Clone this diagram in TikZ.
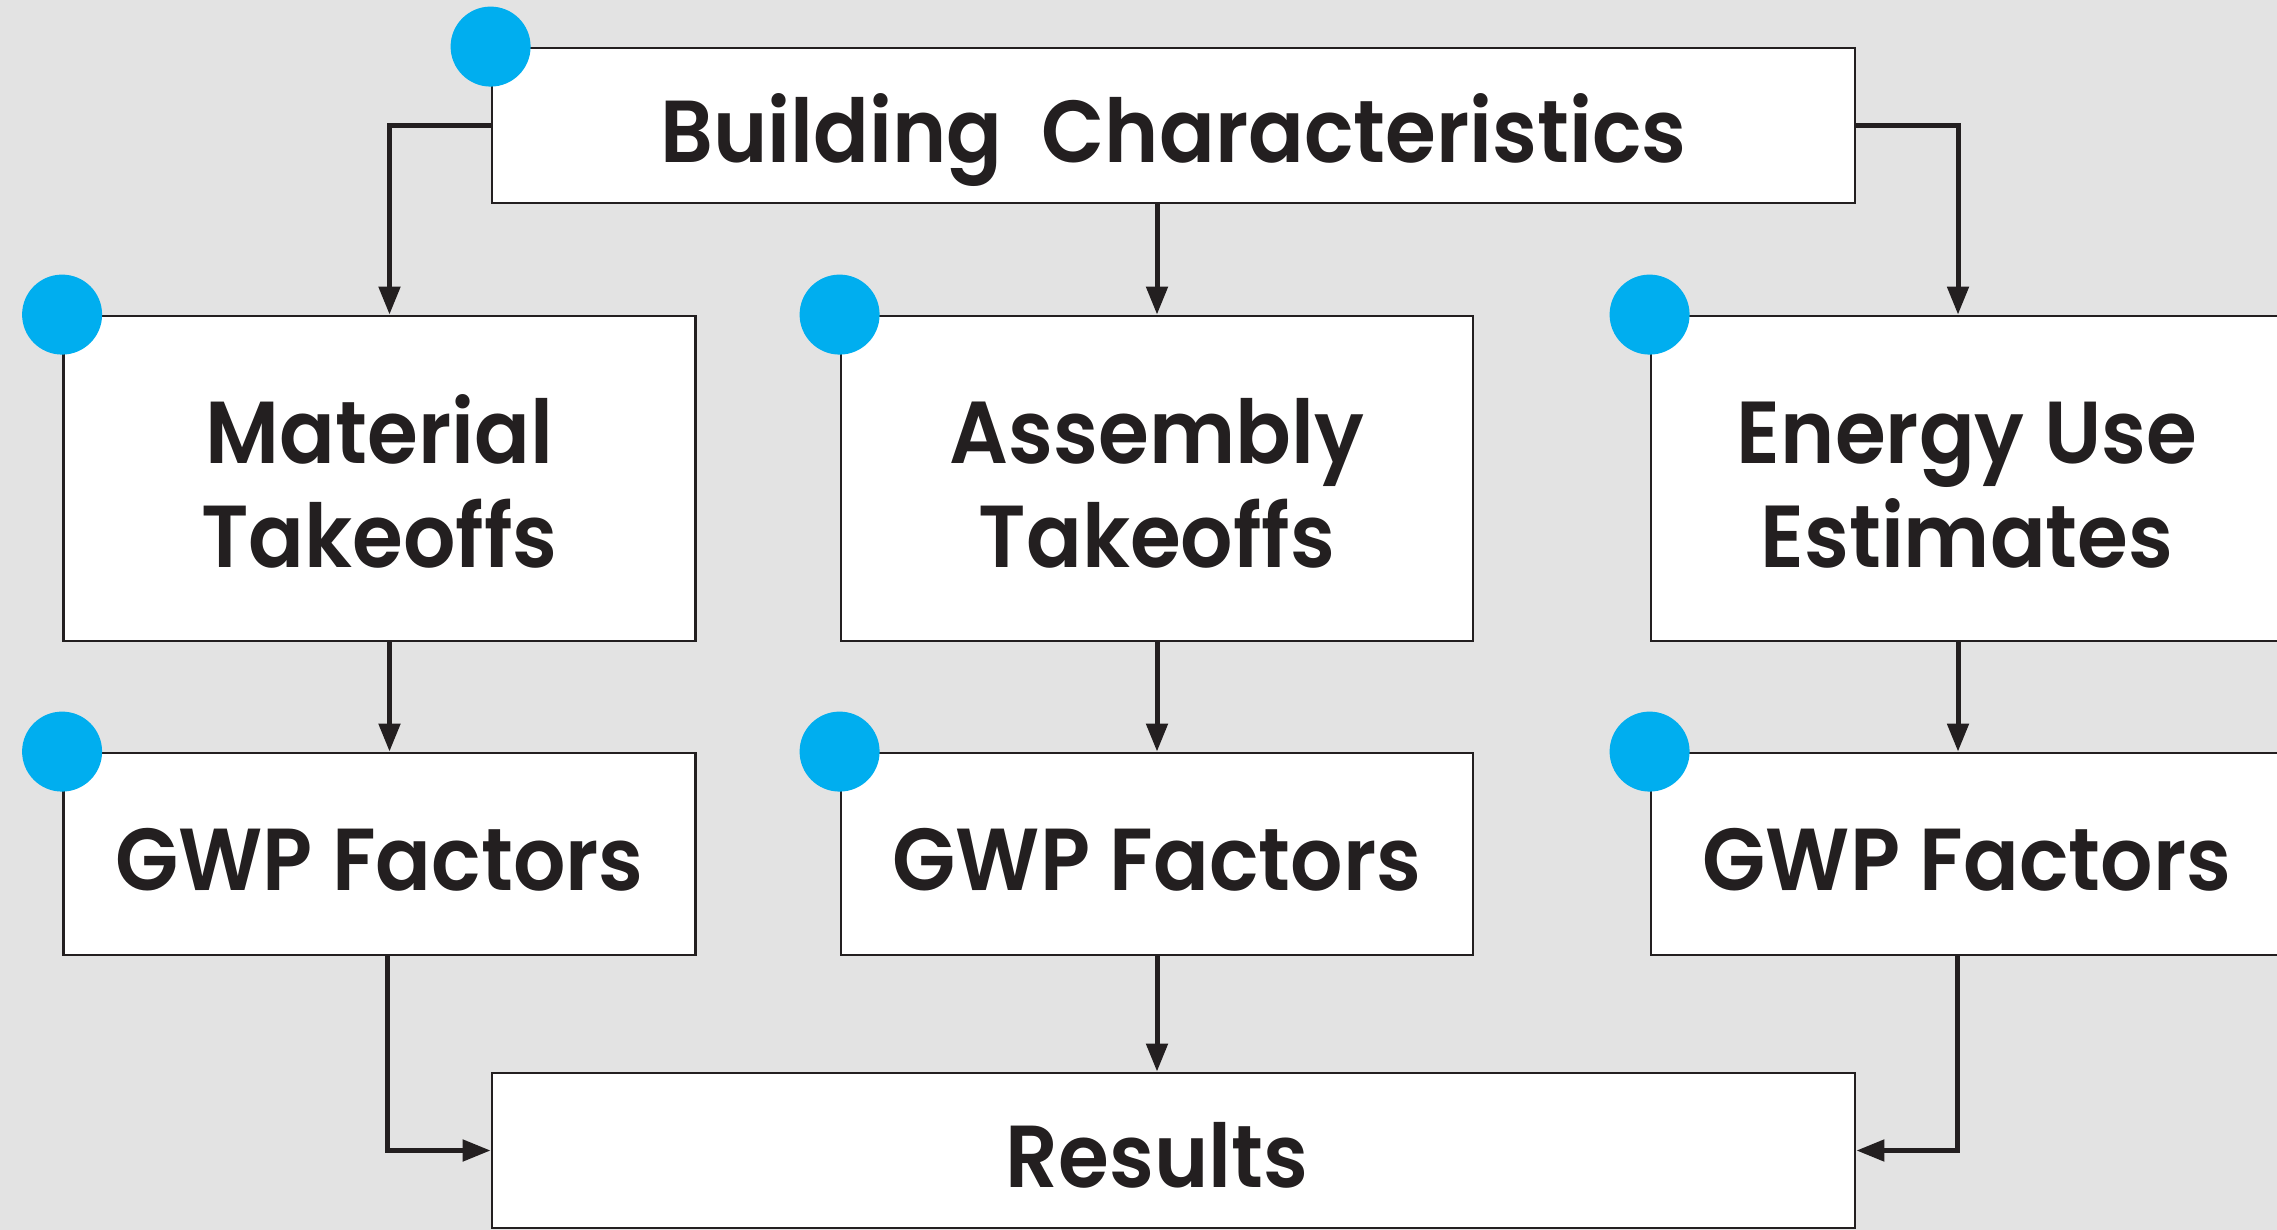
\documentclass[tikz,border=0pt]{standalone}
\usepackage{fontspec}
\setmainfont{Poppins}[BoldFont={Poppins SemiBold},BoldFeatures={FakeStretch=0.935}]
\usetikzlibrary{arrows.meta,positioning}
\definecolor{bgray}{HTML}{E3E3E3}
\definecolor{ink}{HTML}{231F20}
\definecolor{dotblue}{HTML}{00AEEF}
% label text: box reaches from just above the capitals down to the last baseline,
% so that the capitals sit a little below the middle of each box
\newcommand\boxtext[2]{\raisebox{0pt}[\dimexpr\fontcharht\font`H+6pt\relax][#1]{%
  \begin{tabular}[t]{@{}c@{}}#2\end{tabular}}}
\begin{document}
\begin{tikzpicture}[x=0.5pt,y=-0.5pt,
  box/.style={draw=ink,line width=1.4pt,fill=white,inner sep=0pt,
    font=\fontsize{44}{52}\selectfont\bfseries,text=ink},
  wide/.style={box,minimum width=681.5pt,minimum height=77.5pt},
  tall/.style={box,minimum width=316pt,minimum height=162.5pt},
  short/.style={box,minimum width=316pt,minimum height=101pt},
  arr/.style={draw=ink,line width=2.5pt,-{Triangle[length=14pt,width=10.5pt]}},
  dot/.style={circle,fill=dotblue,minimum size=40pt,inner sep=0pt}]
  \fill[bgray] (0,0) rectangle (2277,1230);
  \useasboundingbox (0,0) rectangle (2277,1230);

  % boxes
  \node[wide]  (bc)  at (1173.5,125.5) {\boxtext{0pt}{Building\ \ Characteristics}};
  \node[tall]  (mt)  at (379.5,478.5)  {\boxtext{52pt}{Material\\Takeoffs}};
  \node[tall]  (at)  at (1157,478.5)   {\boxtext{52pt}{Assembly\\Takeoffs}};
  \node[tall]  (eu)  at (1967,478.5)   {\boxtext{52pt}{Energy Use\\Estimates}};
  \node[short] (g1)  at (379.5,854)    {\boxtext{0pt}{GWP Factors}};
  \node[short] (g2)  at (1157,854)     {\boxtext{0pt}{GWP Factors}};
  \node[short] (g3)  at (1967,854)     {\boxtext{0pt}{GWP Factors}};
  % the label of the results box lines up with the middle column
  \node[wide]  (res) at (1173.5,1150.5){\boxtext{0pt}{Results\hspace*{16.5pt}}};

  % connectors
  \draw[arr] (bc.west) -| ([xshift=5pt]mt.north);
  \draw[arr] (bc.south -| at.north) -- (at.north);
  \draw[arr] (bc.east) -| ([xshift=-4.5pt]eu.north);
  \draw[arr] ([xshift=5pt]mt.south) -- ([xshift=5pt]g1.north);
  \draw[arr] (at.south) -- (g2.north);
  \draw[arr] ([xshift=-4.5pt]eu.south) -- ([xshift=-4.5pt]g3.north);
  \draw[arr] ([xshift=4pt]g1.south) |- (res.west);
  \draw[arr] (g2.south) -- (g2.south |- res.north);
  \draw[arr] ([xshift=-5pt]g3.south) |- (res.east);

  % corner markers
  \foreach \n in {bc,mt,at,eu,g1,g2,g3}
    \node[dot] (d-\n) at (\n.north west) {};
\end{tikzpicture}
\end{document}
